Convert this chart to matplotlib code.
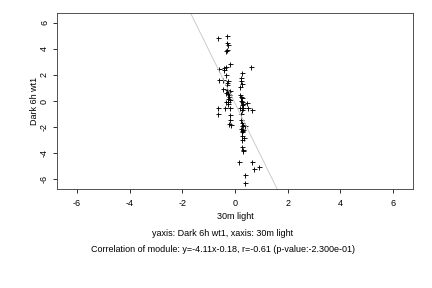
import matplotlib
matplotlib.use("Agg")
import matplotlib.pyplot as plt
import numpy as np

plt.rcParams['font.family'] = ['Liberation Sans', 'DejaVu Sans']

x_vals = [-0.64, -0.29, -0.29, -0.27, -0.30, -0.34, -0.18, 0.60, -0.35, -0.42,
          -0.60, -0.41, 0.28, -0.35, 0.23, -0.60, -0.45, -0.26, -0.32, 0.28,
          0.19, -0.45, -0.32, -0.19, -0.34, -0.26, -0.23, 0.19, 0.23, 0.26,
          -0.28, -0.19, -0.35, 0.28, -0.26, 0.32, 0.45, -0.64, -0.38, -0.19,
          0.19, 0.32, 0.51, 0.26, 0.64, -0.64, -0.19, 0.23, -0.19, 0.23,
          -0.23, -0.15, 0.26, 0.29, 0.38, 0.23, 0.26, 0.26, 0.35, 0.28,
          0.26, 0.32, 0.32, 0.16, 0.64, 0.74, 0.90, 0.38, 0.38,
          -0.28, -0.22, 0.22, 0.25, -0.25, 0.28, 0.25, 0.30, -0.30, 0.24]
y_vals = [4.84, 5.02, 4.46, 4.31, 3.95, 3.83, 2.87, 2.64, 2.61, 2.56,
          2.46, 2.36, 2.18, 1.98, 1.77, 1.60, 1.65, 1.52, 1.35, 1.27,
          1.09, 0.91, 0.84, 0.76, 0.59, 0.51, 0.33, 0.46, 0.33, 0.21,
          0.15, 0.08, -0.05, -0.05, -0.25, -0.25, -0.13, -0.57, -0.51, -0.56,
          -0.51, -0.56, -0.56, -0.68, -0.68, -1.01, -1.06, -1.01, -1.44, -1.44,
          -1.75, -1.88, -1.70, -1.83, -1.95, -2.13, -2.28, -2.71, -2.84, -2.97,
          -3.55, -3.73, -3.86, -4.68, -4.68, -5.19, -5.04, -5.69, -6.27,
          0.70, 0.45, 0.00, -0.30, -0.10, -1.90, -2.40, -2.20, 1.20, 1.50]

slope = -4.11
intercept = -0.18
ticks = [-6, -4, -2, 0, 2, 4, 6]
fs = 9

fig = plt.figure(figsize=(6, 4), dpi=72)
ax = fig.add_axes([57/432, 1-189/288, (413-57)/432, (189-13)/288])

ax.plot(x_vals, y_vals, '+', color='black', markersize=5, markeredgewidth=0.9)
xl = np.array([-6.76, 6.76])
ax.plot(xl, slope*xl + intercept, color='#c8c8c8', linewidth=0.9)

ax.set_xlim(-6.76, 6.76)
ax.set_ylim(-6.76, 6.76)
ax.set_xticks(ticks)
ax.set_yticks(ticks)
ax.set_xticklabels([str(t) for t in ticks], fontsize=fs)
ax.set_yticklabels([str(t) for t in ticks], fontsize=fs, rotation=90, va='center')
ax.tick_params(direction='out', length=4, width=0.8)
ax.tick_params(axis='x', pad=6)
ax.tick_params(axis='y', pad=4)
for s in ax.spines.values():
    s.set_linewidth(0.9)
    s.set_color('#444444')

ax.set_xlabel('30m light', fontsize=fs, labelpad=4)
ax.set_ylabel('Dark 6h wt1', fontsize=fs, labelpad=1)

fig.text(223/432, 1-233/288, 'yaxis: Dark 6h wt1, xaxis: 30m light', ha='center', va='center', fontsize=fs)
fig.text(223/432, 1-249/288, 'Correlation of module: y=-4.11x-0.18, r=-0.61 (p-value:-2.300e-01)',
         ha='center', va='center', fontsize=fs)

fig.savefig('out.png', dpi=72)
